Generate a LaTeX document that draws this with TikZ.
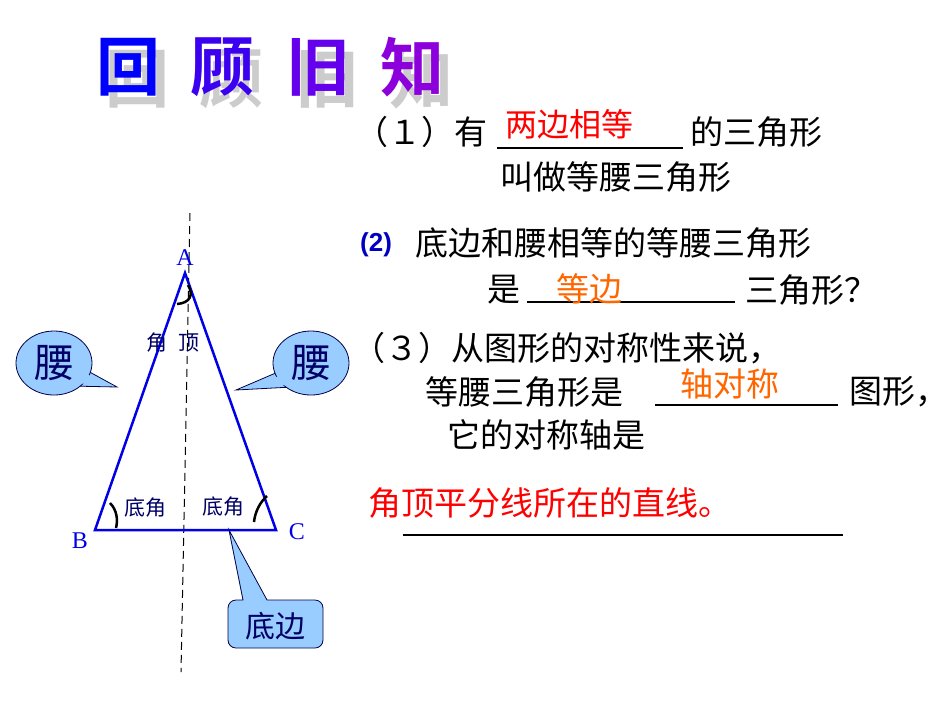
\documentclass[tikz,border=0pt]{standalone}
\usepackage{fontspec}
\setmainfont{Liberation Serif}
\newfontfamily\cjk{Noto Sans CJK SC}
\newfontfamily\cjkb{Noto Sans CJK SC Bold}
\newfontfamily\lsans{Liberation Sans}
\usetikzlibrary{shapes.geometric}
\definecolor{bub}{RGB}{153,204,255}
\definecolor{tri}{RGB}{0,0,230}
\definecolor{org}{RGB}{255,102,0}
\definecolor{navy}{RGB}{0,0,102}
\tikzset{
  txt/.style={anchor=west,inner sep=0pt,font=\cjk\fontsize{33}{33}\selectfont},
  ul/.style={line width=1.2pt},
  bubble/.style={fill=bub,draw=navy!70!black,line width=0.8pt},
  lbl/.style={text=tri,font=\fontsize{24}{24}\selectfont,inner sep=0pt},
  small/.style={font=\cjk\fontsize{21}{21}\selectfont,text=navy,inner sep=0pt},
}
\begin{document}
\begin{tikzpicture}[x=1pt,y=-1pt]
\useasboundingbox (0,0) rectangle (950,713);
% title
\foreach \t/\x/\c in {回/128/{0,0,255},顾/222/{60,0,240},旧/318/{100,0,235},知/412/{140,0,220}}{
  \definecolor{tc}{RGB}{\c}
  \node[font=\cjkb\fontsize{64}{64}\selectfont,text=gray!40,inner sep=0pt] (sh\x) at (\x+9,79) {\t};
  \node[font=\cjkb\fontsize{64}{64}\selectfont,text=tc,inner sep=0pt] (ti\x) at (\x,67) {\t};
}
% dashed axis
\coordinate (d1) at (190,213); \coordinate (d2) at (181,672);
\draw[line width=1pt,dash pattern=on 8pt off 5pt] (d1) -- (d2);
% callouts
\coordinate (tl) at (117,387);
\draw[bubble] (tl) -- (70,386) -- (86,370) -- cycle;
\node[bubble,ellipse,minimum width=76pt,minimum height=64pt,inner sep=0pt] (el) at (54,363) {};
\fill[bub] (114,386) -- (74,383) -- (84,373) -- cycle;
\node[font=\cjk\fontsize{40}{40}\selectfont,text=navy] (yl) at (54,363) {腰};
\coordinate (tr) at (236,390);
\draw[bubble] (tr) -- (278,372) -- (292,387) -- cycle;
\node[bubble,ellipse,minimum width=76pt,minimum height=64pt,inner sep=0pt] (er) at (311,363) {};
\fill[bub] (240,389) -- (279,376) -- (288,385) -- cycle;
\node[font=\cjk\fontsize{40}{40}\selectfont,text=navy] (yr) at (311,363) {腰};
\coordinate (tb) at (229,530);
\draw[bubble] (tb) -- (267,600) -- (313,600) [rounded corners=8pt] -- (323,600) -- (323,648) -- (228,648) -- (228,600) [sharp corners]-- (243,600) -- cycle;
\node[font=\cjk\fontsize{30}{30}\selectfont,text=navy] (db) at (275,626) {底边};
% triangle
\coordinate (A) at (185,273); \coordinate (B) at (95,530); \coordinate (C) at (276,530);
\draw[tri,line width=2.5pt,line join=miter] (A) -- (B) -- (C) -- cycle;
\node[lbl] (la) at (185,258) {A};
\node[lbl] (lb) at (80,541) {B};
\node[lbl] (lc) at (297,532) {C};
% angle marks
\draw[line width=2.5pt] (188,285) .. controls (194,295) and (190,303) .. (177,304);
\draw[line width=2.5pt] (110,503) .. controls (117,510) and (118,520) .. (116,528);
\draw[line width=2.5pt] (267,496) .. controls (260,502) and (255,512) .. (254,522);
\node[small,anchor=west] (jd) at (146,343) {角};
\node[small,anchor=west] (jd2) at (178,343) {顶};
\node[small,anchor=west] (da1) at (124,508) {底角};
\node[small,anchor=west] (da2) at (202,507) {底角};
% right text
\node[txt] (l1) at (355,132) {（１）有};
\draw[ul] (497,148) -- (683,148);
\node[txt,text=red,font=\cjk\fontsize{32}{32}\selectfont] (a1) at (505,124) {两边相等};
\node[txt] (l1b) at (690,132) {的三角形};
\node[txt] (l2) at (500,177) {叫做等腰三角形};
\node[anchor=west,inner sep=0pt,text=tri!70!navy,font=\lsans\bfseries\fontsize{26}{26}\selectfont] (n2) at (360,245) {(2)};
\node[txt] (l3) at (415,243) {底边和腰相等的等腰三角形};
\node[txt] (l4) at (487,290) {是};
\draw[ul] (527,302) -- (735,302);
\node[txt,text=org] (a2) at (556,289) {等边};
\node[txt] (l4b) at (745,290) {三角形？};
\node[txt] (l5) at (352,348) {（３）从图形的对称性来说，};
\node[txt] (l6) at (425,392) {等腰三角形是};
\draw[ul] (655,405) -- (838,405);
\node[txt,text=org] (a3) at (680,384) {轴对称};
\node[txt] (l6b) at (849,392) {图形，};
\node[txt] (l7) at (447,435) {它的对称轴是};
\node[txt,text=red] (a4) at (368,503) {角顶平分线所在的直线。};
\draw[ul] (403,535) -- (843,535);
\end{tikzpicture}
\end{document}
